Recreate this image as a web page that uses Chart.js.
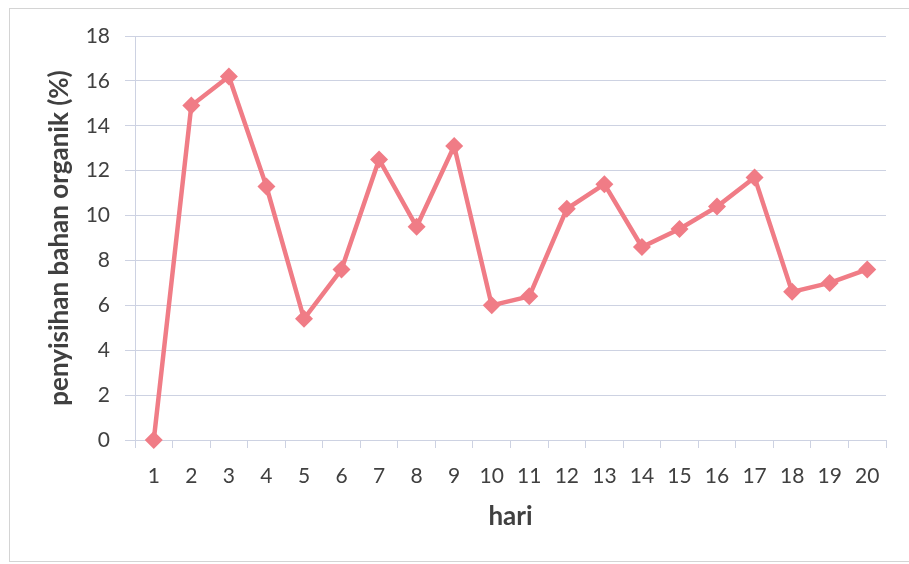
<!DOCTYPE html>
<html>
<head>
<meta charset="utf-8">
<style>
  html, body { margin: 0; padding: 0; background: #ffffff; }
  #wrap { position: relative; width: 909px; height: 564px; }
  canvas { display: block; }
</style>
<script src="https://cdn.jsdelivr.net/npm/chart.js@4/dist/chart.umd.min.js"></script>
</head>
<body>
<div id="wrap"><canvas id="chart" width="909" height="564"></canvas></div>
<script>
// Days of observation and organic-matter removal (%)
const days = ['1','2','3','4','5','6','7','8','9','10','11','12','13','14','15','16','17','18','19','20'];
const removal = [0, 14.9, 16.2, 11.3, 5.4, 7.6, 12.5, 9.5, 13.1, 6.0, 6.4, 10.3, 11.4, 8.6, 9.4, 10.4, 11.7, 6.6, 7.0, 7.6];
const yTicks = [0, 2, 4, 6, 8, 10, 12, 14, 16, 18];

const lineColor = '#f07c86';
const gridColor = '#cdd2e2';
const textColor = '#404040';
const fontFamily = 'Lato, "Open Sans", "DejaVu Sans", sans-serif';

// Thin frame around the whole chart
const framePlugin = {
  id: 'frame',
  beforeDraw(chart) {
    const ctx = chart.ctx;
    ctx.save();
    ctx.strokeStyle = '#d4d4d4';
    ctx.lineWidth = 1;
    ctx.strokeRect(9.5, 8.5, 930, 553);
    ctx.restore();
  }
};

new Chart(document.getElementById('chart'), {
  type: 'line',
  data: {
    labels: days,
    datasets: [{
      data: removal,
      borderColor: lineColor,
      backgroundColor: lineColor,
      borderWidth: 4.5,
      pointStyle: 'rectRot',
      pointRadius: 9,
      pointHoverRadius: 9,
      pointBorderWidth: 0,
      tension: 0,
      clip: false
    }]
  },
  options: {
    responsive: false,
    animation: false,
    devicePixelRatio: 1,
    layout: { padding: { left: 10, right: 23, top: 36, bottom: 20 } },
    plugins: { legend: { display: false }, tooltip: { enabled: false } },
    scales: {
      x: {
        offset: true,
        grid: {
          offset: true,
          drawOnChartArea: false,
          drawTicks: true,
          tickLength: 8,
          color: gridColor
        },
        border: { display: true, color: gridColor, width: 1 },
        ticks: {
          color: textColor,
          font: { family: fontFamily, size: 21 },
          padding: 16,
          maxRotation: 0,
          autoSkip: false
        },
        title: {
          display: true,
          text: 'hari',
          color: textColor,
          font: { family: fontFamily, size: 26, weight: 'bold' },
          padding: { top: 12, bottom: 12 }
        },
        afterFit(scale) { scale.height = 104; }
      },
      y: {
        min: 0,
        max: 18,
        afterBuildTicks(scale) { scale.ticks = yTicks.map(v => ({ value: v })); },
        grid: {
          color: gridColor,
          lineWidth: 1,
          drawTicks: true,
          tickLength: 10
        },
        border: { display: true, color: gridColor, width: 1 },
        ticks: {
          color: textColor,
          font: { family: fontFamily, size: 21 },
          padding: 15
        },
        title: {
          display: true,
          text: 'penyisihan bahan organik (%)',
          color: textColor,
          font: { family: fontFamily, size: 26, weight: 'bold' },
          padding: { top: 34, bottom: 34 }
        },
        afterFit(scale) { scale.width = 125; }
      }
    }
  },
  plugins: [framePlugin]
});
</script>
</body>
</html>
